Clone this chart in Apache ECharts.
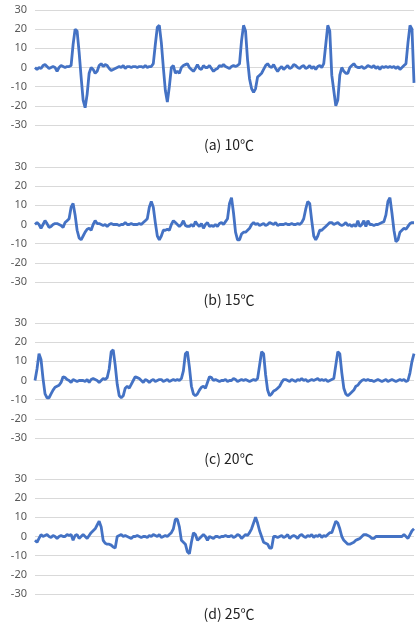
<!DOCTYPE html>
<html><head><meta charset="utf-8">
<script src="https://cdn.jsdelivr.net/npm/echarts@6/dist/echarts.min.js"></script>
<style>html,body{margin:0;padding:0;background:#fff}#c{width:417px;height:625px}</style>
</head><body><div id="c"></div>
<script>
const captions = ['(a) 10℃', '(b) 15℃', '(c) 20℃', '(d) 25℃'];
const yTicks = [-30, -20, -10, 0, 10, 20, 30];

const seriesA = [
0,-1,0,-0.5,1,1.5,0.5,-0.5,0,0.5,
0,-2,0,1,0.5,0,0.5,0.5,1,12,
20,19,8,-5,-17,-21,-14,-3,0,-1,
-3,-2,1,2,0.5,1.5,1,-0.5,-1.5,-1,
-0.5,0,0.5,0,1,-0.5,0.5,0.5,0,0.5,
0.5,0,0.5,0.5,0,1,0,0.5,0.5,2,
12,21,22,13,0,-12,-18,-10,0,1,
-3,-2,-3,0,1,1.5,2,0,-1,-2,
-0.5,1.5,-0.5,-1,1,0,0,1,-0.5,-2,
-1,-0.5,1,0.5,1.5,0.5,0,-0.5,0.5,1,
0.5,1,2,14,22,19,4,-6,-11,-13,
-11,-5,-4,-3,-1,1,2,0.5,0,1.5,
-0.5,-2,-0.5,0.5,-1,0,1,-0.5,0,1.5,
1,0,-0.5,0.5,1,-0.5,0,1,-0.5,0.5,
-1,0.5,1,0,2,12,22,19,-4,-12,
-20,-17,-4,0,-2,-3,-3,0,1,2,
0.5,0,0,0.5,-0.5,0,1,0.5,0,1,
-0.5,0.5,-1,0.5,0,0.5,0,0.5,0,0.5,
-0.5,0.5,-1,0,1,2,13,22,20,-8
];
const seriesB = [
0,1,0,-2,0,2,0.5,-1.5,-1,0,
0.5,0.5,0,-0.5,-1.5,1,2,3,9,11,
5,-3,-7,-8,-6,-4,-2.5,-2,-3,0,
2,0.5,0.5,0,-0.5,0,-1,0,0.5,0,
0,0,-0.5,0,0,1,0,0,0.5,0,
0,0,0.5,0,1,2,3,9,12,9,
1,-6,-8,-6,-3,-3,-2.5,-3,0,2,
1,0,-1,0,2,-0.5,-1,-1,0,-1,
1.5,0,-1,0.5,-2,0,1,-1,-0.5,-1,
0,-1,0.5,1,0,1.5,3,11,14,6,
-4,-8,-8,-5,-4,-4,-3,-2,0,1,
0,0.5,-0.5,0,0.5,-0.5,0,1,0.5,0,
1,-0.5,0,0,0,0.5,0,0,0.5,0,
0,0.5,0,1,3,8,12,11,2,-6,
-8,-6,-3,-3,-2,-1,0,1,1,0,
0.5,1,0,-0.5,0,1,-0.5,0,-1,0,
-1,2,-1,0,2,-1,2,0,0,-0.5,
0,0,0.5,1,1.5,5,12,14,6,-3,
-9,-8,-4,-3,-2,-2.5,-1,0.5,1,1
];
const seriesC = [
0,6,14,11,1,-7,-9,-9,-7,-5,
-3.5,-3,-2.5,-1,2,1.5,0.5,0,-1,0.5,
0,-0.5,0,0,0,-0.5,0.5,-1,0.5,1,
0.5,0,-1,0,1,0.5,1.5,6,15,16,
8,-2,-8,-9,-8,-4,-3,-4,-2,0,
2,1.5,1,0,-1,0.5,0,-1,0,0.5,
-0.5,0,0.5,0.5,-0.5,0,0.5,-0.5,0,0.5,
0,0.5,0,1,5,14,15,7,-3,-7,
-8,-7,-5,-3.5,-3,-4,-1,2,1.5,0,
0.5,0,-0.5,0,0,0.5,-0.5,0,0,1,
0.5,-0.5,0,0.5,0,0.5,0,-0.5,0,0.5,
0,1,8,15,14,3,-5,-8,-7,-5.5,
-5,-4,-3,-1,0.5,0.5,0,-0.5,0.5,0,
-0.5,0.5,0,1,0,0.5,-0.5,0,0.5,0,
0.5,1,0,0.5,0,0.5,-0.5,0,0.5,1,
8,15,14,4,-4,-7,-8,-7,-6,-5,
-3,-2.5,-1,0,0.5,0,0.5,0,0,-0.5,
0,0.5,0,-0.5,0,0.5,-0.5,0,0.5,0,
-0.5,0,0.5,0,0.5,-0.5,0,4,10,14
];
const seriesD = [
-2,-3,-1,1,0,0.5,1,0,-0.5,0.5,
0,-1,0,0.5,0,0,1,0.5,1,-2,
0.5,1,-1,0,1,0,-1,0.5,2,3,
4,6,8,5,-2,-3.5,-4,-4,-4.5,-5.5,
-6,0,0.5,1,0,0.5,0,-0.5,-1,0,
0,0.5,0,-0.5,0,0,-0.5,0.5,0,1,
0.5,0,1,-0.5,0,0.5,0,1,2,4,
9,9,5,-2,-3,-4,-8,-9,-3,2,
1,-2,-1,0,1,0,-2,0,-0.5,-1,
0,0,-0.5,0,0,0.5,0,0,0.5,-0.5,
0,1,0.5,-1,0,1,0.5,2,4,7,
10,7,3,0,-3,-3.5,-4,-6,-6,0,
0,-0.5,0,0.5,-0.5,0,1,-1,0,0.5,
0,-1,0.5,1,0,-0.5,0.5,0,1,-0.5,
0.5,0,1,-0.5,0.5,0,1,2,2,5,
8,7,4,0,-2,-3,-4,-4,-3.5,-3,
-2,-1.5,-1,0,1,1,0.5,0,-1,-1,
0,0,0,0,0,0,0,0,0,0,
0,0,0,0,1,0,-1,1,3,4
];

const allSeries = [seriesA, seriesB, seriesC, seriesD];
const gridTops = [10, 167, 323, 479];
const captionTops = [133, 288, 447, 602];

const chart = echarts.init(document.getElementById('c'), null, {renderer: 'canvas'});
const idx = seriesA.map((_, i) => i);
const option = {
  animation: false,
  backgroundColor: '#ffffff',
  title: captions.map((t, k) => ({
    text: t, left: 224, top: captionTops[k], textAlign: 'center',
    textStyle: {fontSize: 14, fontWeight: 'normal', color: '#222', fontFamily: 'Noto Sans CJK KR'}
  })),
  grid: gridTops.map(t => ({left: 35, right: 3, top: t, height: 115, containLabel: false})),
  xAxis: gridTops.map((_, k) => ({
    type: 'category', gridIndex: k, data: idx, boundaryGap: false, show: false
  })),
  yAxis: gridTops.map((_, k) => ({
    type: 'value', gridIndex: k, min: yTicks[0], max: yTicks[yTicks.length - 1], interval: 10,
    axisLine: {show: false}, axisTick: {show: false},
    axisLabel: {color: '#595959', fontSize: 11, margin: 8, fontFamily: 'Noto Sans'},
    splitLine: {lineStyle: {color: '#d9d9d9', width: 1}}
  })),
  series: allSeries.map((d, k) => ({
    type: 'line', xAxisIndex: k, yAxisIndex: k, data: d, showSymbol: false, symbol: 'none',
    lineStyle: {color: '#4472C4', width: 2.8}, smooth: false
  }))
};
chart.setOption(option);
</script>
</body></html>
